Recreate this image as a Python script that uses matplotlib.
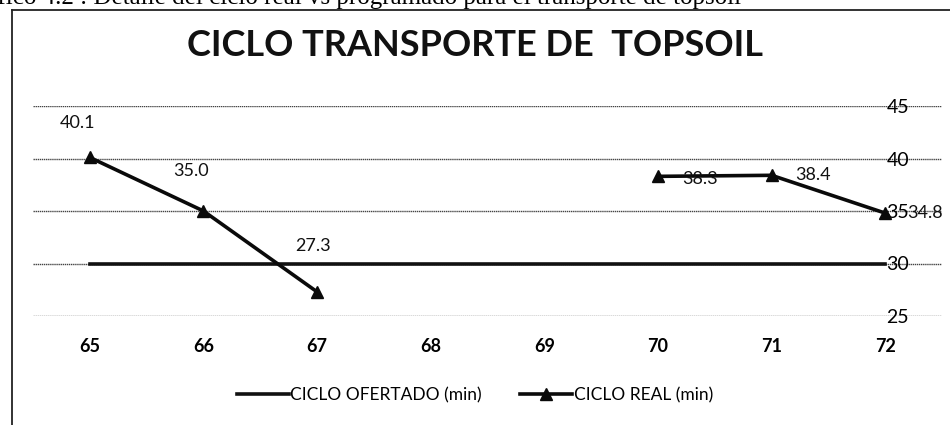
# Ciclo transporte de topsoil - real vs ofertado
import matplotlib
matplotlib.use('Agg')
import matplotlib.pyplot as plt
from matplotlib.lines import Line2D
import numpy as np

# data
dias = [65, 66, 67, 68, 69, 70, 71, 72]
ciclo_ofertado = [30, 30, 30, 30, 30, 30, 30, 30]
ciclo_real = [40.1, 35.0, 27.3, np.nan, np.nan, 38.3, 38.4, 34.8]
y_ticks = [25, 30, 35, 40, 45]

plt.rcParams['font.family'] = ['Lato', 'DejaVu Sans']

fig = plt.figure(figsize=(9.5, 4.25), dpi=100)
ax = fig.add_axes([33 / 950, 109 / 425, 909 / 950, 210 / 425])

ax.plot(dias, ciclo_ofertado, color='#111111', lw=2.6, label='CICLO OFERTADO (min)', zorder=3)
ax.plot(dias, ciclo_real, color='#0a0a0a', lw=2.6, marker='^', markersize=9,
        label='CICLO REAL (min)', zorder=4)

# data labels (offsets in points)
offsets = {65: (-9, 25), 66: (-9, 29), 67: (-3, 33), 70: (30, -2), 71: (30, 0), 72: (29, 0)}
for d, v in zip(dias, ciclo_real):
    if np.isnan(v):
        continue
    dx, dy = offsets[d]
    ax.annotate('{:.1f}'.format(v), (d, v), xytext=(dx, dy), textcoords='offset points',
                ha='center', va='center', fontsize=13, color='#111111', zorder=5)

ax.set_xlim(64.5, 72.5)
ax.set_ylim(25, 45)
ax.set_xticks(dias)
ax.set_xticklabels([str(d) for d in dias], fontsize=13, fontweight='bold')
ax.set_yticks(y_ticks)
ax.yaxis.tick_right()
ax.set_yticklabels([str(t) for t in y_ticks], fontsize=14)
ax.tick_params(axis='y', length=0, pad=-40)
ax.tick_params(axis='x', length=0, pad=16)
ax.grid(axis='y', color='#444444', lw=1.0, ls=(0, (1, 0.5)))
for s in ax.spines.values():
    s.set_visible(False)
ax.set_facecolor('none')

fig.text(0.5, 1 - 45 / 425, 'CICLO TRANSPORTE DE  TOPSOIL', ha='center', va='center',
         fontsize=26, fontweight='bold', color='#111111')

fig.legend(loc='center', bbox_to_anchor=(0.5, 1 - 395 / 425), ncol=2, frameon=False,
           fontsize=12.5, handlelength=3.0, columnspacing=2.2, handletextpad=0.1)

# cut caption of the scanned page and chart border
fig.text(-40 / 950, 1 - 4 / 425, 'Gráfico 4.2 : Detalle del ciclo real vs programado para el transporte de topsoil',
         ha='left', va='baseline', fontsize=18, family=['Liberation Serif', 'DejaVu Serif'])
fig.add_artist(Line2D([12 / 950, 1], [1 - 10 / 425, 1 - 10 / 425], color='#222222', lw=1.3))
fig.add_artist(Line2D([12 / 950, 12 / 950], [0, 1 - 10 / 425], color='#222222', lw=1.3))

fig.savefig('out.png', dpi=100)
